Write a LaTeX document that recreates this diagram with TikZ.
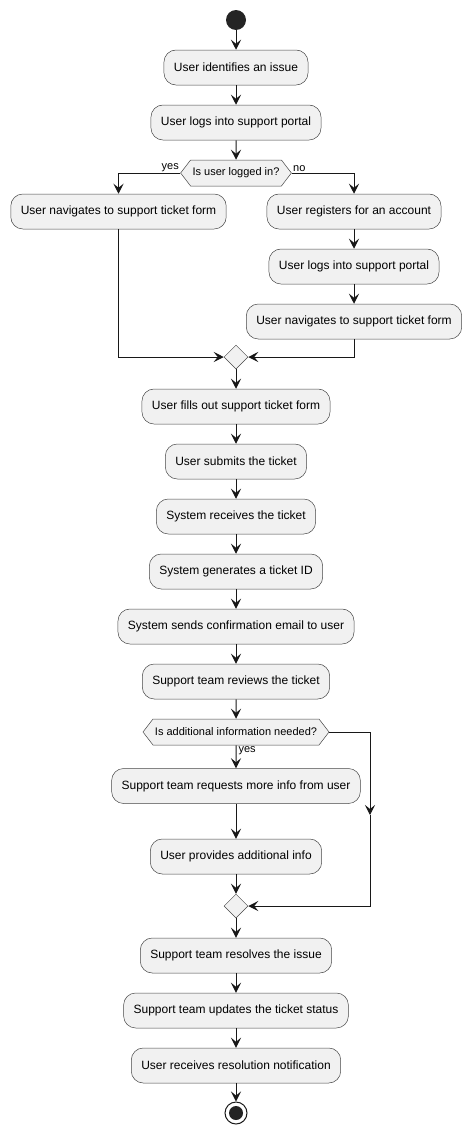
\documentclass[tikz,border=0pt]{standalone}
\usepackage{fontspec}
\setmainfont{Liberation Sans}
\usetikzlibrary{arrows.meta,shapes.geometric,shapes.symbols}
\definecolor{actfill}{HTML}{F1F1F1}
\definecolor{lineclr}{HTML}{181818}

\begin{document}
\begin{tikzpicture}[x=1pt,y=-1pt,
	actbox/.style={draw=lineclr!80,line width=0.5pt,fill=actfill,rounded corners=12pt,minimum height=35pt,inner xsep=10pt,font=\fontsize{12}{14}\selectfont},
	decbox/.style={draw=lineclr!80,line width=0.5pt,fill=actfill,shape=signal,signal to=east and west,signal pointer angle=105,minimum height=26pt,inner xsep=2pt,font=\fontsize{11}{13}\selectfont},
	mergebox/.style={draw=lineclr!80,line width=0.5pt,fill=actfill,shape=diamond,minimum width=24pt,minimum height=24pt,inner sep=0pt},
	flowline/.style={draw=lineclr,line width=1pt,-{Stealth[length=10pt,width=10pt,inset=4pt]}},
	branchlbl/.style={font=\fontsize{11}{13}\selectfont,inner sep=1pt}]
	\useasboundingbox (0,0) rectangle (471,1135);

	% start and the login check
	\node[circle,fill=lineclr!95,minimum size=20pt,inner sep=0pt] (start) at (236,20) {};
	\node[actbox] (identify) at (236,67.5) {User identifies an issue};
	\node[actbox] (login) at (236,122.5) {User logs into support portal};
	\node[decbox] (logged) at (236,173) {Is user logged in?};
	\node[actbox] (navL) at (118.5,211.5) {User navigates to support ticket form};
	\node[actbox] (register) at (354,211.5) {User registers for an account};
	\node[actbox] (loginR) at (354,266.5) {User logs into support portal};
	\node[actbox] (navR) at (354,321.5) {User navigates to support ticket form};
	\node[mergebox] (merge1) at (236,357) {};

	% ticket handling
	\node[actbox] (fill) at (236,406.5) {User fills out support ticket form};
	\node[actbox] (submit) at (236,461.5) {User submits the ticket};
	\node[actbox] (receive) at (236,516.5) {System receives the ticket};
	\node[actbox] (genid) at (236,571.5) {System generates a ticket ID};
	\node[actbox] (email) at (236,626.5) {System sends confirmation email to user};
	\node[actbox] (review) at (236,681.5) {Support team reviews the ticket};
	\node[decbox] (needinfo) at (236,732) {Is additional information needed?};
	\node[actbox] (request) at (236,786) {Support team requests more info from user};
	\node[actbox] (provide) at (236,856.5) {User provides additional info};
	\node[mergebox] (merge2) at (236,906) {};
	\coordinate (skip) at (370,815);

	% resolution
	\node[actbox] (resolve) at (236,955.5) {Support team resolves the issue};
	\node[actbox] (update) at (236,1010.5) {Support team updates the ticket status};
	\node[actbox] (notify) at (236,1065.5) {User receives resolution notification};
	\node[circle,draw=lineclr,line width=1pt,fill=white,minimum size=22pt,inner sep=0pt] (stop) at (236,1113) {};
	\fill[lineclr!95] (stop.center) circle (7pt);

	\draw[flowline] (start) -- (identify);
	\draw[flowline] (identify) -- (login);
	\draw[flowline] (login) -- (logged);
	\draw[flowline] (logged.west) -| (navL.north) node[pos=0,anchor=south east,branchlbl] {yes};
	\draw[flowline] (logged.east) -| (register.north) node[pos=0,anchor=south west,branchlbl] {no};
	\draw[flowline] (register) -- (loginR);
	\draw[flowline] (loginR) -- (navR);
	\draw[flowline] (navL.south) |- (merge1.west);
	\draw[flowline] (navR.south) |- (merge1.east);
	\draw[flowline] (merge1) -- (fill);
	\draw[flowline] (fill) -- (submit);
	\draw[flowline] (submit) -- (receive);
	\draw[flowline] (receive) -- (genid);
	\draw[flowline] (genid) -- (email);
	\draw[flowline] (email) -- (review);
	\draw[flowline] (review) -- (needinfo);
	\draw[flowline] (needinfo) -- (request) node[pos=0,anchor=north west,branchlbl,xshift=1pt] {yes};
	\draw[flowline] (request) -- (provide);
	\draw[flowline] (provide) -- (merge2);
	\draw[flowline] (needinfo.east) -| (skip);
	\draw[flowline] (skip) |- (merge2.east);
	\draw[flowline] (merge2) -- (resolve);
	\draw[flowline] (resolve) -- (update);
	\draw[flowline] (update) -- (notify);
	\draw[flowline] (notify) -- (stop);
\end{tikzpicture}
\end{document}
